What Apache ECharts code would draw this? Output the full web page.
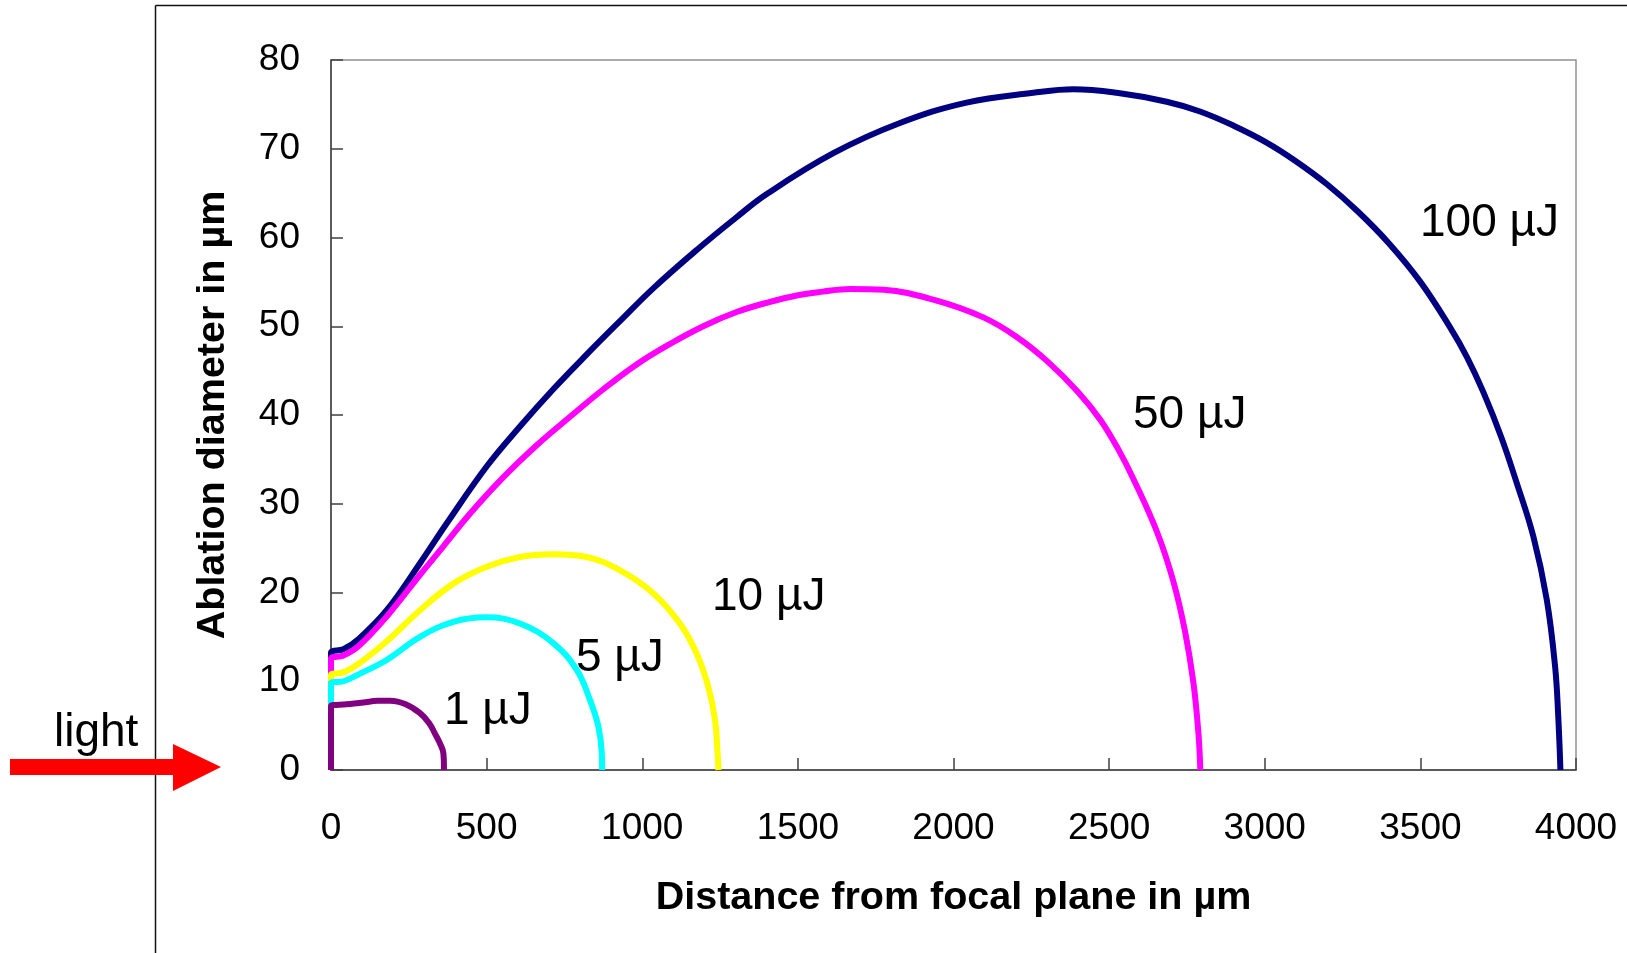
<!DOCTYPE html>
<html>
<head>
<meta charset="utf-8">
<script src="https://cdn.jsdelivr.net/npm/echarts@6/dist/echarts.min.js"></script>
<style>
html,body{margin:0;padding:0;background:#fff;}
#chart{width:1627px;height:953px;}
</style>
</head>
<body>
<div id="chart"></div>
<script>
// ---- data (x = distance from focal plane in µm, y = ablation diameter in µm) ----
const seriesNames = ['100 µJ', '50 µJ', '10 µJ', '5 µJ', '1 µJ'];
const seriesColors = ['#000080', '#FF00FF', '#FFFF00', '#00FFFF', '#800080'];

const e100 = [[0,0],[0,13.2],[40,13.6],[90,14.8],[179,18.0],[286,23.3],[372,27.8],[500,34.2],[607,38.7],[714,42.9],[821,46.8],[929,50.6],[1036,54.3],[1175,58.6],[1300,62.2],[1400,64.9],[1614,69.5],[1828,72.9],[2042,75.2],[2256,76.3],[2385,76.7],[2524,76.3],[2685,75.3],[2792,74.2],[2900,72.6],[3006,70.7],[3100,68.6],[3200,66.0],[3300,62.9],[3400,59.3],[3500,55.0],[3595,49.9],[3650,46.5],[3702,42.6],[3760,37.5],[3809,32.4],[3863,26.3],[3906,19.2],[3933,11.6],[3943,6.0],[3950,0]];
const e50 = [[0,0],[0,12.5],[40,12.9],[90,14.0],[179,17.3],[286,22.0],[361,25.2],[447,28.9],[554,33.0],[661,36.6],[768,39.8],[875,42.9],[982,45.7],[1089,48.0],[1196,50.0],[1303,51.6],[1405,52.7],[1500,53.5],[1580,53.9],[1667,54.2],[1775,54.1],[1935,53.0],[2096,51.0],[2203,48.8],[2300,46.1],[2400,42.6],[2471,39.5],[2530,36.1],[2578,32.8],[2653,26.9],[2706,21.3],[2744,15.6],[2771,9.8],[2787,4.1],[2793,0]];
const e10 = [[0,0],[0,10.7],[40,11.0],[90,12.0],[179,14.5],[286,18.0],[393,21.0],[500,22.9],[607,24.0],[714,24.3],[821,24.0],[929,22.5],[1036,19.9],[1121,16.5],[1175,13.1],[1212,9.4],[1234,5.6],[1242,1.9],[1245,0]];
const e5 = [[0,0],[0,9.8],[40,10.0],[90,10.8],[179,12.4],[286,15.0],[393,16.7],[500,17.2],[607,16.5],[714,14.3],[789,11.3],[832,7.9],[859,4.9],[870,1.9],[871,0]];
const e1 = [[0,0],[0,7.2],[50,7.4],[104,7.6],[150,7.8],[190,7.8],[240,7.4],[286,6.4],[315,5.3],[334,4.1],[350,3.0],[361,1.9],[363,0]];
const seriesData = [e100, e50, e10, e5, e1];

const xRange = {min: 0, max: 4000, interval: 500};
const yRange = {min: 0, max: 80, interval: 10};
const xTitle = 'Distance from focal plane in µm';
const yTitle = 'Ablation diameter in µm';
const sideLabel = 'light';

const FONT = "'Liberation Sans', Arial, sans-serif";

const chart = echarts.init(document.getElementById('chart'), null, {renderer: 'canvas'});

const labelPos = [
  {text: '100 µJ', x: 1420, y: 223},
  {text: '50 µJ', x: 1133, y: 415},
  {text: '10 µJ', x: 712, y: 597},
  {text: '5 µJ', x: 576, y: 658},
  {text: '1 µJ', x: 444, y: 711}
];

const option = {
  backgroundColor: '#ffffff',
  animation: false,
  grid: {
    left: 331, right: 51, top: 60, bottom: 183,
    show: true, borderColor: '#909090', borderWidth: 1.5, backgroundColor: '#ffffff'
  },
  xAxis: {
    type: 'value', min: xRange.min, max: xRange.max, interval: xRange.interval,
    name: xTitle, nameLocation: 'middle', nameGap: 108,
    nameTextStyle: {fontFamily: FONT, fontSize: 39.5, fontWeight: 'bold', color: '#000'},
    axisLine: {show: true, onZero: false, lineStyle: {color: '#404040', width: 1.5}},
    axisTick: {show: true, inside: true, length: 12, lineStyle: {color: '#404040', width: 1.5}},
    axisLabel: {fontFamily: FONT, fontSize: 37, color: '#000', margin: 40, formatter: v => String(v)},
    splitLine: {show: false}
  },
  yAxis: {
    type: 'value', min: yRange.min, max: yRange.max, interval: yRange.interval,
    name: yTitle, nameLocation: 'middle', nameGap: 98,
    nameTextStyle: {fontFamily: FONT, fontSize: 39.5, fontWeight: 'bold', color: '#000'},
    axisLine: {show: true, onZero: false, lineStyle: {color: '#404040', width: 1.5}},
    axisTick: {show: true, inside: true, length: 12, lineStyle: {color: '#404040', width: 1.5}},
    axisLabel: {fontFamily: FONT, fontSize: 37, color: '#000', margin: 31, formatter: v => String(v)},
    splitLine: {show: false}
  },
  series: seriesData.map((d, i) => ({
    name: seriesNames[i],
    type: 'line',
    data: d,
    showSymbol: false,
    symbol: 'none',
    smooth: 0.4,
    clip: false,
    lineStyle: {color: seriesColors[i], width: 6, join: 'round'},
    z: 2 + i
  })),
  graphic: [
    {type: 'line', shape: {x1: 155.5, y1: 5.5, x2: 1627, y2: 5.5}, style: {stroke: '#111', lineWidth: 1.5}, z: 10},
    {type: 'line', shape: {x1: 155.5, y1: 5.5, x2: 155.5, y2: 953}, style: {stroke: '#111', lineWidth: 1.5}, z: 10},
    {type: 'polygon', shape: {points: [[10,759],[173,759],[173,744],[221,767],[173,791],[173,775],[10,775]]}, style: {fill: '#FF0000'}, z: 11},
    {type: 'text', x: 54, y: 733, style: {text: sideLabel, font: '46px ' + FONT, fill: '#000', textVerticalAlign: 'middle', verticalAlign: 'middle'}, z: 12}
  ].concat(labelPos.map(l => ({
    type: 'text', x: l.x, y: l.y,
    style: {text: l.text, font: '46px ' + FONT, fill: '#000', textVerticalAlign: 'middle', verticalAlign: 'middle'},
    z: 12
  })))
};

chart.setOption(option);
</script>
</body>
</html>
